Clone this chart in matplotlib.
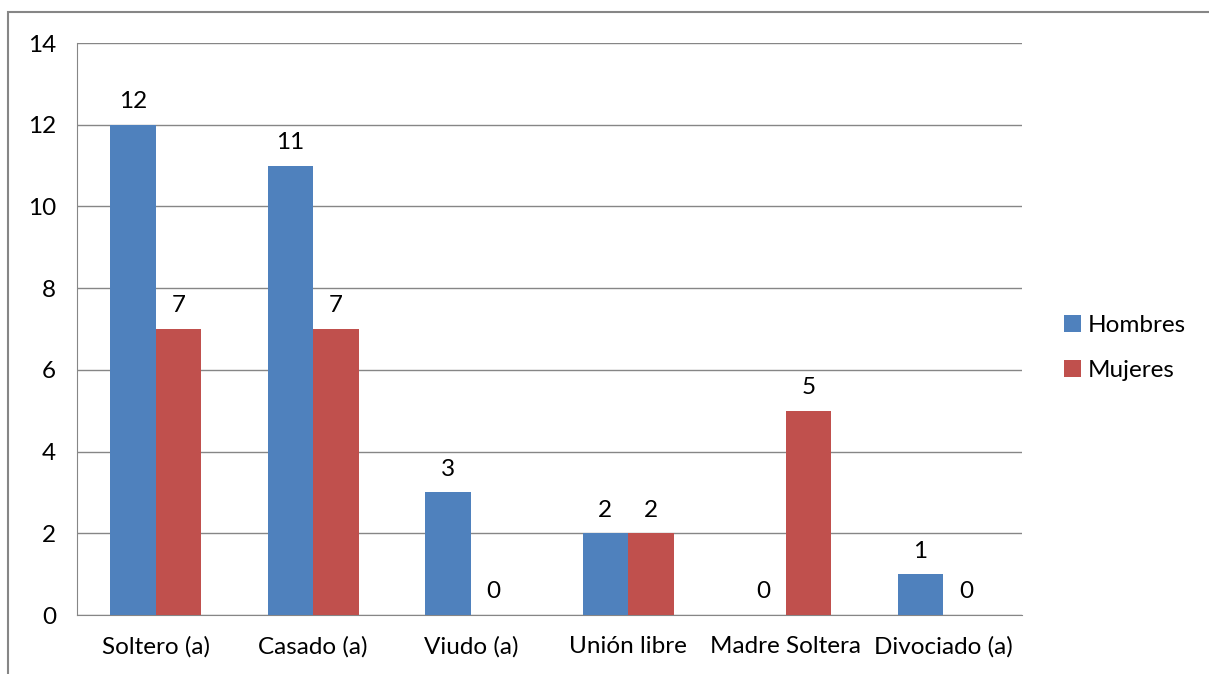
import numpy as np
import matplotlib.pyplot as plt
from matplotlib.patches import Rectangle

categorias = ['Soltero (a)', 'Casado (a)', 'Viudo (a)', 'Unión libre', 'Madre Soltera', 'Divociado (a)']
hombres = [12, 11, 3, 2, 0, 1]
mujeres = [7, 7, 0, 2, 5, 0]
yticks = [0, 2, 4, 6, 8, 10, 12, 14]

plt.rcParams['font.family'] = ['Lato', 'DejaVu Sans']
fs = 17.5
plt.rcParams['font.size'] = fs

fig = plt.figure(figsize=(12.09, 6.74), dpi=100)
ax = fig.add_axes([77 / 1209, 1 - 615 / 674, (1022 - 77) / 1209, (615 - 43) / 674])

x = np.arange(len(categorias))
w = 0.29
b1 = ax.bar(x - w / 2, hombres, w, color='#4F81BD', label='Hombres', zorder=3)
b2 = ax.bar(x + w / 2, mujeres, w, color='#C0504D', label='Mujeres', zorder=3)
ax.bar_label(b1, padding=9, fontsize=fs)
ax.bar_label(b2, padding=9, fontsize=fs)

ax.set_xlim(-0.5, len(categorias) - 0.5)
ax.set_ylim(0, 14)
ax.set_yticks(yticks)
ax.set_xticks(x)
ax.set_xticklabels(categorias)
ax.tick_params(axis='x', length=0, pad=15, labelsize=fs)
ax.tick_params(axis='y', length=0, pad=15, labelsize=fs)
ax.yaxis.grid(True, color='#868686', linewidth=1, zorder=0)
for s in ['top', 'right']:
    ax.spines[s].set_visible(False)
for s in ['left', 'bottom']:
    ax.spines[s].set_color('#868686')

fig.legend(handles=[b1, b2], loc='center left', bbox_to_anchor=(1042 / 1209, 1 - 348 / 674),
           frameon=False, handlelength=0.7, handleheight=0.7, handletextpad=0.3,
           labelspacing=1.0, fontsize=fs)

# chart border
fig.patches.append(Rectangle((8 / 1209, -0.1), 1.2, 1.1 - 12 / 674, transform=fig.transFigure,
                             fill=False, edgecolor='#868686', linewidth=1.5))

fig.savefig('out.png', dpi=100)
